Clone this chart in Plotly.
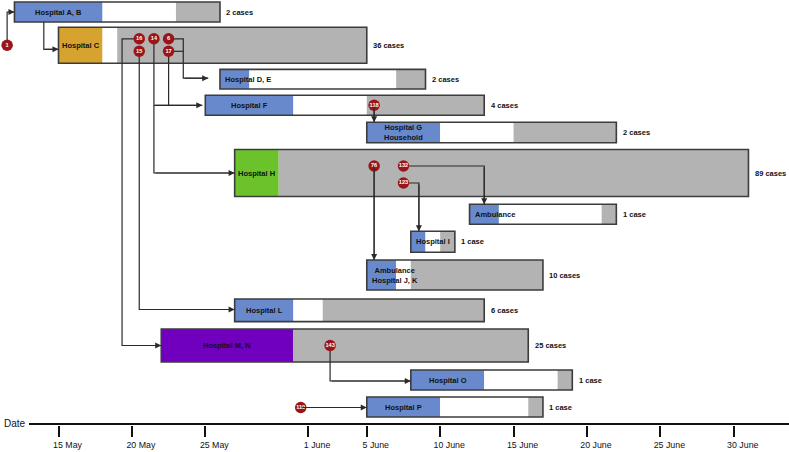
import pandas as pd
import plotly.graph_objects as go

# ---------------- data ----------------
ORIGIN = pd.Timestamp("2020-05-15")

rows = ["Hospital A, B", "Hospital C", "Hospital D, E", "Hospital F",
        "Hospital G<br>Household", "Hospital H", "Ambulance", "Hospital I",
        "Ambulance<br>Hospital J, K", "Hospital L", "Hospital M, N",
        "Hospital O", "Hospital P"]
start_dates = ["2020-05-12", "2020-05-15", "2020-05-26", "2020-05-25", "2020-06-05",
               "2020-05-27", "2020-06-12", "2020-06-08", "2020-06-05", "2020-05-27",
               "2020-05-22", "2020-06-08", "2020-06-05"]
first_end_dates = ["2020-05-18", "2020-05-18", "2020-05-28", "2020-05-31", "2020-06-10",
                   "2020-05-30", "2020-06-14", "2020-06-09", "2020-06-07", "2020-05-31",
                   "2020-05-31", "2020-06-13", "2020-06-10"]
grey_start_dates = ["2020-05-23", "2020-05-19", "2020-06-07", "2020-06-05", "2020-06-15",
                    "2020-05-30", "2020-06-21", "2020-06-10", "2020-06-08", "2020-06-02",
                    "2020-05-31", "2020-06-18", "2020-06-16"]
end_dates = ["2020-05-26", "2020-06-05", "2020-06-09", "2020-06-13", "2020-06-22",
             "2020-07-01", "2020-06-22", "2020-06-11", "2020-06-17", "2020-06-13",
             "2020-06-16", "2020-06-19", "2020-06-17"]
cases = [2, 36, 2, 4, 2, 89, 1, 1, 10, 6, 25, 1, 1]

case_ids = ["1", "16", "14", "6", "15", "17", "118", "76", "132", "123", "143", "119"]
case_dates = ["2020-05-11", "2020-05-20", "2020-05-21", "2020-05-22", "2020-05-20",
              "2020-05-22", "2020-06-05", "2020-06-05", "2020-06-07", "2020-06-07",
              "2020-06-02", "2020-05-31"]
case_rows = [1, 1, 1, 1, 1, 1, 3, 5, 5, 5, 10, 12]

tick_dates = ["2020-05-15", "2020-05-20", "2020-05-25", "2020-06-01", "2020-06-05",
              "2020-06-10", "2020-06-15", "2020-06-20", "2020-06-25", "2020-06-30"]
tick_labels = ["15 May", "20 May", "25 May", "1 June", "5 June",
               "10 June", "15 June", "20 June", "25 June", "30 June"]

# ---------------- layout / style ----------------
BLUE, GREY, GOLD, GREEN, PURPLE = "#688ACC", "#B3B3B3", "#D6A331", "#6CC22B", "#7000BE"
first_colors = [BLUE, GOLD, BLUE, BLUE, BLUE, GREEN, BLUE, BLUE, BLUE, BLUE, PURPLE, BLUE, BLUE]
row_center = [12, 45.3, 79.2, 105.3, 132.5, 173, 214.3, 241.8, 275, 310.3, 345.5, 380, 407]
row_height = [20, 36, 19.7, 20, 20.4, 47, 20, 21, 30, 22.7, 33, 20, 20]
case_y_offset = [0, -6.5, -6.5, -6.5, 6, 6, 0, -7, -7, 10, 0, 0.5]

W, H = 789, 452
PX_PER_DAY = 14.68
X0_PX = 58.5
BOTTOM = 27
PLOT_H = H - BOTTOM
FONT = "Liberation Sans, Arial, sans-serif"
LINE = "#2a2a2a"
LABEL_SIZE = 7.5


def day(d):
    return (pd.Timestamp(d) - ORIGIN).days


start = [day(d) for d in start_dates]
first_end = [day(d) for d in first_end_dates]
grey_start = [day(d) for d in grey_start_dates]
end = [day(d) for d in end_dates]
top = [c - h / 2 for c, h in zip(row_center, row_height)]
bottom = [c + h / 2 for c, h in zip(row_center, row_height)]

fig = go.Figure()


def seg(x0, x1, color, line_w=0, line_c=None):
    fig.add_trace(go.Bar(
        orientation="h", y=row_center, base=x0,
        x=[b - a for a, b in zip(x0, x1)], width=row_height,
        marker=dict(color=color, line=dict(width=line_w, color=line_c or "rgba(0,0,0,0)")),
        hoverinfo="skip", showlegend=False))


seg(start, first_end, first_colors)
seg(first_end, grey_start, "white")
seg(grey_start, end, GREY)
seg(start, end, "rgba(0,0,0,0)", 1.6, "#3c3c3c")

# case circles
cx = {cid: day(d) + 0.5 for cid, d in zip(case_ids, case_dates)}
cy = {cid: row_center[r] + o for cid, r, o in zip(case_ids, case_rows, case_y_offset)}

# connectors: polylines (day, y)
A, C, DE, F, G, HH, AMB, I, JK, L, MN, O, P = range(13)
paths = [
    ([(cx["1"], cy["1"]), (cx["1"], row_center[A]), (start[A], row_center[A])], True),
    ([(-1, bottom[A]), (-1, row_center[C] + 4), (start[C], row_center[C] + 4)], True),
    ([(cx["16"], cy["16"]), (4.33, cy["16"]), (4.33, row_center[MN]), (start[MN], row_center[MN])], True),
    ([(cx["15"], cy["15"]), (cx["15"], row_center[L] - 0.8), (start[L], row_center[L] - 0.8)], True),
    ([(cx["14"], cy["14"]), (cx["14"], row_center[HH]), (start[HH], row_center[HH])], True),
    ([(cx["6"], cy["6"]), (8.5, cy["6"]), (8.5, row_center[DE] - 1), (start[DE] - 0.8, row_center[DE] - 1)], True),
    ([(cx["17"], cy["17"]), (8.5, cy["17"])], False),
    ([(cx["17"], cy["17"]), (cx["17"], row_center[F])], False),
    ([(cx["14"], row_center[F]), (start[F] - 0.2, row_center[F])], True),
    ([(cx["118"], cy["118"]), (cx["118"], top[G])], True),
    ([(cx["76"], cy["76"]), (cx["76"], top[JK])], True),
    ([(cx["132"], cy["132"]), (29, cy["132"]), (29, top[AMB])], True),
    ([(cx["123"], cy["123"]), (24.55, cy["123"]), (24.55, top[I])], True),
    ([(cx["143"], cy["143"]), (cx["143"], row_center[O] + 1), (start[O], row_center[O] + 1)], True),
    ([(cx["119"], cy["119"]), (start[P], cy["119"])], True),
]
lx, ly = [], []
annotations = []
for pts, arrow in paths:
    for px_, py_ in pts:
        lx.append(px_)
        ly.append(py_)
    lx.append(None)
    ly.append(None)
    if arrow:
        (ax_, ay_), (x_, y_) = pts[-2], pts[-1]
        annotations.append(dict(x=x_, y=y_, ax=ax_, ay=ay_, xref="x", yref="y",
                                axref="x", ayref="y", text="", showarrow=True,
                                arrowhead=2, arrowsize=1.1, arrowwidth=1.1,
                                arrowcolor=LINE, standoff=0))
fig.add_trace(go.Scatter(x=lx, y=ly, mode="lines", line=dict(color=LINE, width=1.2),
                         hoverinfo="skip", showlegend=False, connectgaps=False))

fig.add_trace(go.Scatter(
    x=[cx[c] for c in case_ids], y=[cy[c] for c in case_ids], mode="markers+text",
    marker=dict(size=11.5, color="#9A1519", line=dict(width=0)),
    text=["<b>%s</b>" % c for c in case_ids], textposition="middle center",
    textfont=dict(color="white", size=5.6, family=FONT),
    hoverinfo="skip", showlegend=False))

# bar labels
for i, name in enumerate(rows):
    longest = max(len(s) for s in name.split("<br>"))
    seg_px = (first_end[i] - start[i]) * PX_PER_DAY
    if longest * 3.9 > seg_px - 4:
        x, xa = start[i] + 3 / PX_PER_DAY, "left"
    else:
        x, xa = (start[i] + first_end[i]) / 2, "center"
    annotations.append(dict(x=x, y=row_center[i], xref="x", yref="y", xanchor=xa,
                            yanchor="middle", text="<b>%s</b>" % name, showarrow=False,
                            align="center", font=dict(family=FONT, size=LABEL_SIZE, color="#111")))
    annotations.append(dict(x=end[i] + 4.5 / PX_PER_DAY, y=row_center[i], xref="x", yref="y",
                            xanchor="left", yanchor="middle", showarrow=False,
                            text="<b>%d %s</b>" % (cases[i], "case" if cases[i] == 1 else "cases"),
                            font=dict(family=FONT, size=LABEL_SIZE, color="#111")))

annotations.append(dict(x=0.002, xref="paper", y=423.5, yref="y", xanchor="left", yanchor="middle",
                        text="Date", showarrow=False, font=dict(family=FONT, size=10, color="#111")))

x_lo = -X0_PX / PX_PER_DAY
x_hi = (W - X0_PX) / PX_PER_DAY

fig.update_layout(
    width=W, height=H, margin=dict(l=0, r=0, t=0, b=BOTTOM, autoexpand=False),
    paper_bgcolor="white", plot_bgcolor="white", barmode="overlay",
    showlegend=False, annotations=annotations,
    shapes=[dict(type="line", xref="x", yref="y", x0=(29 - X0_PX) / PX_PER_DAY, x1=x_hi,
                 y0=PLOT_H - 1, y1=PLOT_H - 1, line=dict(color="#111", width=2))],
    xaxis=dict(range=[x_lo, x_hi], showgrid=False, zeroline=False, showline=False,
               tickvals=[day(d) for d in tick_dates], ticktext=tick_labels,
               ticks="outside", ticklen=11, tickwidth=2, tickcolor="#111",
               ticklabelshift=9, ticklabelstandoff=0,
               tickfont=dict(family=FONT, size=8.8, color="#111"),
               fixedrange=True, automargin=False),
    yaxis=dict(range=[PLOT_H, 0], visible=False, fixedrange=True),
)

fig.write_html("out.html", config={"displayModeBar": False, "staticPlot": True},
               post_script="document.body.style.margin='0px';")
